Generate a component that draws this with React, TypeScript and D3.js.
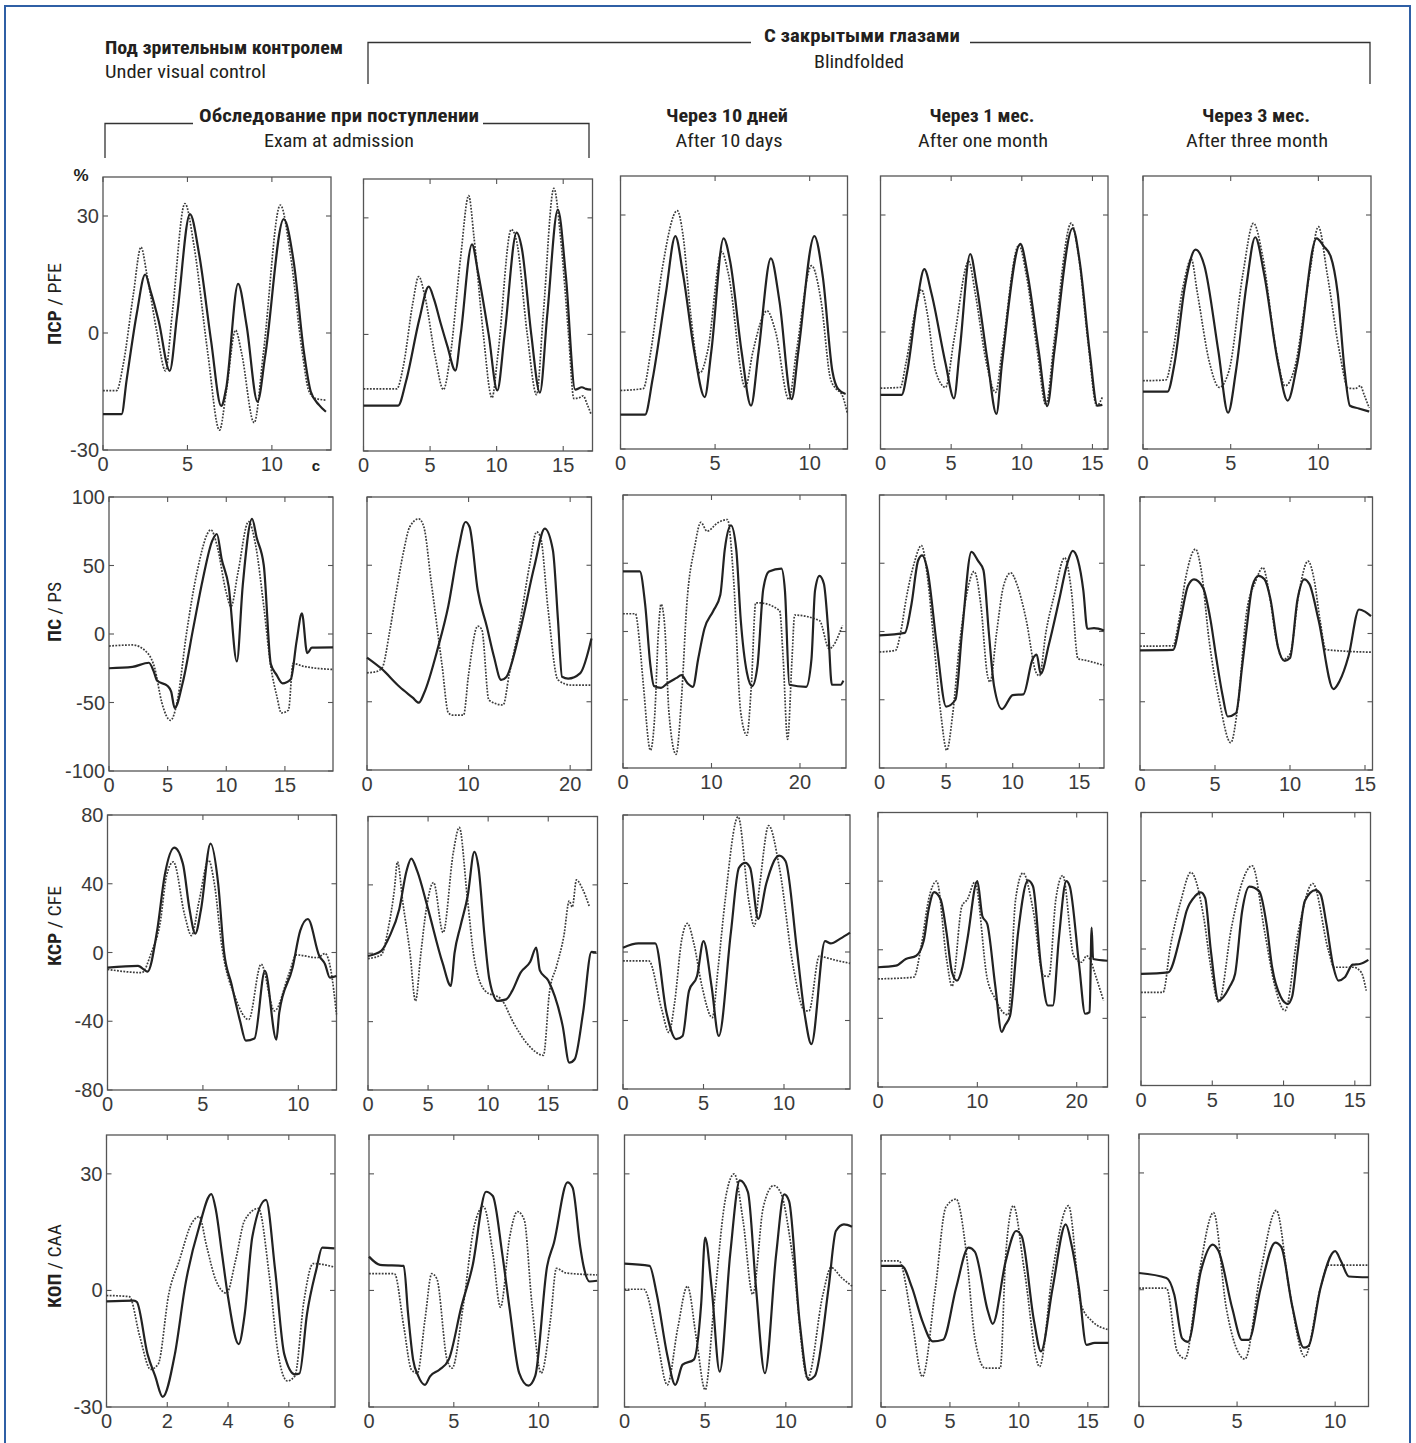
import React from "react";
import * as d3 from "d3";

type Pt = [number, number];

// ---- ПСР / PFE (row 1) ----
const pfeAdmitASolid: Pt[] = [[0,-20.8],[1.1,-20.8],[1.4,-12],[2.0,5],[2.5,15],[2.8,11],[3.3,3],[3.95,-9.7],[4.4,5],[5.15,30.5],[5.7,20],[6.4,-2],[7.0,-18.7],[7.3,-14],[8.0,12.6],[8.5,2],[9.15,-17.6],[9.6,-6],[10.7,29.2],[11.3,18],[11.9,-5],[12.3,-15],[12.8,-18.5],[13.2,-20.2]];
const pfeAdmitADotted: Pt[] = [[0,-14.8],[0.8,-14.8],[1.2,-8],[1.8,10],[2.25,22],[2.6,15],[3.2,0],[3.7,-9.7],[4.1,5],[4.85,33.2],[5.4,22],[6.2,-5],[6.9,-24.9],[7.3,-15],[7.85,0.7],[8.2,-5],[8.95,-23],[9.5,-5],[10.5,32.8],[11.1,20],[11.8,-5],[12.2,-15],[12.6,-16.8],[13.2,-17.2]];
const pfeAdmitBSolid: Pt[] = [[0,-18.3],[2.6,-18.3],[3.2,-12],[4.2,4],[4.9,12.3],[5.3,9],[5.8,2.8],[6.3,-3],[6.9,-9.3],[7.3,0],[8.15,23.2],[8.6,16],[9.4,0],[10.05,-14.4],[10.6,0],[11.5,26.2],[11.9,22],[12.6,0],[13.25,-15],[13.8,5],[14.6,32.1],[15.2,15],[15.9,-14.2],[16.4,-13.6],[16.7,-14],[17.1,-14.2]];
const pfeAdmitBDotted: Pt[] = [[0,-14],[2.5,-14],[3.0,-8],[3.7,8],[4.15,14.9],[4.6,10],[5.4,-6],[6.0,-14.2],[6.5,-6],[7.3,20],[7.9,35.7],[8.3,25],[9.0,0],[9.65,-16.3],[10.1,-5],[11.1,27],[11.5,24],[12.3,0],[13.0,-15.5],[13.5,5],[14.3,37.6],[14.8,25],[15.4,0],[15.8,-16.5],[16.2,-16.3],[16.5,-15.8],[16.8,-18],[17.1,-20.6]];
const pfeDay10Solid: Pt[] = [[0,-21.2],[1.3,-21.2],[1.7,-12],[2.4,10],[2.9,24.6],[3.3,15],[3.9,-5],[4.45,-16.7],[4.8,-5],[5.45,24],[5.8,18],[6.4,-5],[6.9,-18.9],[7.3,-5],[7.95,18.9],[8.4,8],[9.05,-17.2],[9.4,-5],[10.25,24.6],[10.7,14],[11.2,-10],[11.5,-14.6],[11.9,-15.9]];
const pfeDay10Dotted: Pt[] = [[0,-15],[1.2,-14.5],[1.6,-5],[2.2,16],[3.0,31.1],[3.3,25],[3.7,5],[4.2,-10.5],[4.6,-5],[5.35,20.6],[5.7,15],[6.6,-14.2],[7.0,-5],[7.75,5.4],[8.2,0],[8.9,-17.3],[9.3,-5],[10.1,17],[10.6,8],[11.1,-12],[11.4,-14.6],[11.7,-16],[12.0,-21]];
const pfeMonth1Solid: Pt[] = [[0,-16.1],[1.5,-16.1],[1.9,-10],[2.6,8],[3.1,16.1],[3.6,10],[4.6,-8],[5.2,-17],[5.6,-5],[6.35,20],[6.8,12],[7.6,-8],[8.2,-21],[8.6,-8],[9.9,22.6],[10.4,15],[11.2,-5],[11.8,-19],[12.3,-5],[13.6,26.6],[14.1,18],[14.8,-5],[15.35,-18.9],[15.7,-18.7]];
const pfeMonth1Dotted: Pt[] = [[0,-14.4],[1.4,-14.2],[1.8,-8],[2.5,6],[2.9,10.9],[3.3,5],[3.9,-10],[4.6,-14.2],[5.2,-2],[6.25,18.1],[6.7,10],[7.5,-8],[8.15,-15.5],[8.6,-5],[9.8,22.3],[10.3,15],[11.1,-5],[11.7,-18.7],[12.3,-2],[13.5,27.9],[14.0,20],[14.7,-3],[15.3,-18.9],[15.7,-16.7]];
const pfeMonth3Solid: Pt[] = [[0,-15.3],[1.4,-15.3],[1.8,-8],[2.4,12],[3.0,21.1],[3.5,17],[4.3,-5],[4.85,-20.7],[5.3,-10],[5.9,12],[6.4,24.3],[6.9,15],[7.7,-8],[8.25,-17.6],[8.8,-8],[9.9,24],[10.3,22],[10.7,19.4],[11.1,10],[11.5,-10],[11.8,-18.9],[12.3,-19.6],[12.9,-20.4]];
const pfeMonth3Dotted: Pt[] = [[0,-12.5],[1.3,-12.3],[1.7,-5],[2.3,12],[2.75,18.7],[3.1,10],[3.8,-8],[4.35,-14.2],[4.9,-10],[5.7,15],[6.3,27.9],[6.8,20],[7.6,-5],[8.1,-13.8],[8.6,-10],[9.5,15],[10.0,27],[10.5,15],[11.2,-5],[11.7,-14.4],[12.1,-14.5],[12.4,-13.8],[12.6,-16],[12.9,-19.5]];

// ---- ПС / PS (row 2) ----
const psAdmitASolid: Pt[] = [[0,-25],[2,-24],[3.4,-21],[3.8,-27],[4.1,-34],[5.0,-38],[5.3,-42],[5.6,-54],[6.3,-35],[7.2,5],[8.0,40],[8.8,68],[9.2,73],[9.6,55],[10.2,35],[10.9,-20],[11.4,35],[12.2,84],[12.6,70],[13.2,50],[13.8,-22],[14.3,-30],[14.8,-36],[15.5,-33],[16.0,-5],[16.45,15],[16.9,-14],[17.3,-10],[19.1,-9.8]];
const psAdmitADotted: Pt[] = [[0,-8.8],[2,-8],[3.3,-14],[3.9,-25],[4.5,-50],[5.25,-63],[5.8,-50],[6.6,0],[7.5,45],[8.7,76],[9.2,65],[10.0,30],[10.4,20],[11.0,45],[11.9,82],[12.5,65],[13.2,20],[13.8,-24],[14.3,-45],[14.7,-57.6],[15.3,-55.6],[15.7,-21.5],[16.5,-23.4],[19.1,-25.9]];
const psAdmitBSolid: Pt[] = [[0,-17.6],[1.4,-25.6],[3.2,-39],[4.5,-47],[5.1,-50.7],[5.6,-44],[7.0,-10],[8.0,20],[9.0,62],[9.7,81.7],[10.1,78],[10.9,31.7],[11.8,5],[12.5,-17],[13.2,-34],[13.7,-32],[15.0,0],[16.5,50],[17.5,76.8],[18.3,61],[18.8,10],[19.2,-31.7],[19.8,-33],[21.0,-29],[22.1,-3.7]];
const psAdmitBDotted: Pt[] = [[0,-28.8],[0.9,-28],[1.5,-25],[2.2,0],[2.8,26.8],[3.6,60],[4.2,78],[5.1,84],[5.6,78],[6.3,39],[7.4,-24],[8.0,-58],[8.4,-59.8],[9.5,-59.8],[10.0,-30],[10.9,5.4],[11.3,3],[12.0,-48.8],[13.4,-52.4],[14.0,-30],[15.1,9.8],[16.0,50],[16.7,74.4],[17.1,70],[17.8,19.5],[18.8,-34],[20.1,-37.8],[22.1,-37.8]];
const psDay10Solid: Pt[] = [[0,44],[1.9,44],[2.5,20],[3.1,-25],[3.5,-40],[4.3,-41.3],[5.0,-38],[6.05,-34],[6.6,-32],[7.3,-38],[7.9,-40.5],[8.5,-20],[9.2,2],[10.2,15],[11.0,27],[11.5,60],[12.2,77.7],[12.8,60],[13.3,9],[14.0,-30],[14.6,-40],[15.2,-25],[15.85,31],[16.5,44],[17.9,46],[18.3,30],[18.8,-39],[20.7,-40.5],[21.3,-20],[21.7,30],[22.2,40.8],[22.7,35],[23.2,0],[23.6,-39],[24.6,-39],[24.9,-36]];
const psDay10Dotted: Pt[] = [[0,13],[1.4,13],[1.9,-10],[2.3,-39],[3.1,-87],[3.6,-60],[4.0,0],[4.3,20],[4.7,5],[5.2,-60],[6.0,-90],[6.6,-50],[7.2,19],[8.1,62],[8.8,80],[9.5,73.5],[10.7,79.6],[11.8,82],[12.5,38],[13.3,-59],[14.0,-76],[14.5,-40],[15.0,21],[15.4,21],[17.7,15.3],[18.1,-20],[18.6,-79],[19.1,-20],[19.4,12],[22.2,8],[23.3,-12.6],[24.8,4.4]];
const psMonth1Solid: Pt[] = [[0,-2.9],[1.9,-1],[2.4,20],[2.9,52],[3.2,55.8],[3.6,45],[4.3,-10],[5.0,-55],[5.7,-50],[6.2,0],[6.9,58.3],[7.4,51.7],[7.8,45],[8.2,0],[8.6,-40],[9.2,-56.8],[10.0,-46.6],[10.8,-46],[11.5,-20],[11.8,-17],[12.1,-31],[12.7,-10],[13.5,23.8],[14.1,50],[14.5,59],[14.9,52],[15.3,30],[15.6,2],[16.1,2.4],[16.85,0.7]];
const psMonth1Dotted: Pt[] = [[0,-15],[1.2,-13.8],[1.6,0],[2.0,23.8],[2.6,50],[3.15,63],[3.6,40],[4.1,-10],[4.6,-60],[5.05,-87],[5.5,-60],[6.0,-10],[6.6,30],[7.1,44],[7.6,20],[8.1,-32],[8.3,-37],[8.8,0],[9.3,33],[9.85,43],[10.3,35],[11.0,9],[11.75,-30],[12.0,-32.5],[12.5,0],[13.1,26],[13.9,54],[14.4,30],[14.9,-20],[15.4,-21],[16.85,-24.8]];
const psMonth3Solid: Pt[] = [[0,-12.3],[2.2,-12],[2.7,10],[3.2,35],[3.6,39.7],[4.2,33.6],[4.7,10],[5.1,-19],[5.5,-45],[5.85,-60.8],[6.4,-58.3],[6.8,-25],[7.1,3],[7.5,35],[7.9,42.2],[8.3,39.7],[8.7,25],[9.2,-10],[9.65,-20],[10.0,-18],[10.5,25],[10.95,39.7],[11.3,36],[11.9,10],[12.9,-40.7],[13.3,-35],[13.9,-16.7],[14.6,17.6],[15.0,16],[15.4,12.7]];
const psMonth3Dotted: Pt[] = [[0,-9.3],[2.2,-9],[2.6,10],[3.05,41],[3.7,61.8],[4.1,45],[4.6,-4.4],[5.3,-50],[6.05,-80],[6.5,-55],[7.1,15],[7.7,38],[8.2,48.3],[8.6,30],[9.1,-5],[9.55,-19],[10.0,-15],[10.6,30],[11.2,53],[11.6,40],[12.0,10],[12.4,-11.8],[15.4,-13.7]];

// ---- КСР / CFE (row 3) ----
const cfeAdmitASolid: Pt[] = [[0,-8.8],[1.6,-7.8],[2.1,-11.1],[2.6,12.7],[3.0,45],[3.5,61],[3.95,51.7],[4.3,25],[4.6,11],[4.9,25],[5.4,63.4],[5.8,40],[6.1,1],[6.5,-18.5],[6.95,-40],[7.25,-51.3],[7.7,-50.1],[8.25,-10.7],[8.85,-50.7],[9.0,-35],[9.7,-8.8],[10.1,12.7],[10.5,19.5],[11.1,-2],[11.4,-6.8],[11.65,-14.6],[12.0,-13.7]];
const cfeAdmitADotted: Pt[] = [[0,-9.8],[1.8,-11.7],[2.3,0],[2.75,16.6],[3.1,45],[3.45,52.7],[4.05,21.5],[4.4,9.8],[4.8,30],[5.3,53.7],[5.6,40],[6.0,3],[6.7,-26.3],[7.4,-39],[8.05,-6.8],[8.75,-34],[9.5,-12.7],[9.9,-1.4],[11.0,-3],[11.4,-0.6],[11.7,-10],[12.0,-36]];
const cfeAdmitBSolid: Pt[] = [[0,-1.6],[1.1,1.4],[1.8,10],[2.6,25.8],[3.2,48],[3.6,55.4],[4.1,48],[5.0,25.8],[6.2,-5.5],[6.9,-19.1],[7.2,0],[7.7,16],[8.3,33.6],[8.85,59.3],[9.2,50],[9.7,10],[10.1,-15.2],[10.8,-27.9],[11.5,-27],[12.0,-22],[12.7,-11.3],[13.5,-5],[14.0,3.3],[14.3,-10],[15.0,-16],[16.2,-42.5],[16.75,-64],[17.2,-62],[17.9,-34.7],[18.6,0.8],[19.0,0.5]];
const cfeAdmitBDotted: Pt[] = [[0,-3.1],[1.1,-1],[1.7,15],[2.2,37.5],[2.45,53.5],[2.9,29.7],[3.5,0],[3.95,-27.9],[4.4,0],[4.85,25.8],[5.45,41.4],[6.25,12.1],[7.1,59],[7.6,73.6],[8.25,33.6],[8.85,-3.5],[9.75,-22],[11.1,-27],[12.1,-40.6],[13.3,-53.3],[14.6,-59.7],[15.1,-23],[15.7,-7.4],[16.3,10.1],[16.75,30.6],[17.0,27],[17.35,42.9],[17.8,38.4],[18.4,27.7]];
const cfeDay10Solid: Pt[] = [[0,2.5],[0.95,5],[2.0,5],[2.7,-35.3],[3.3,-50.9],[3.7,-49],[4.1,-22.7],[4.6,-14],[5.0,6.4],[5.5,-20],[5.95,-49],[6.7,11.3],[7.2,49.1],[7.6,52],[7.9,49],[8.4,19.4],[8.9,40],[9.7,56.3],[10.1,53],[10.8,1.6],[11.3,-37.3],[11.7,-53.8],[12.55,6.4],[12.9,5],[13.5,7.8],[14.1,11.3]];
const cfeDay10Dotted: Pt[] = [[0,-5.2],[1.6,-5.2],[2.4,-33.4],[2.85,-47],[3.2,-30],[3.65,7.4],[4.0,16.7],[4.4,5],[4.9,-19.8],[5.55,-38.3],[5.9,-10],[6.35,30.7],[7.15,79],[7.8,30.7],[8.15,15.1],[8.5,40],[9.05,73.8],[9.7,50],[10.6,-10],[11.3,-34.4],[11.55,-34.4],[12.2,-2.3],[12.5,-3],[13.3,-5],[14.1,-6.6]];
const cfeMonth1Solid: Pt[] = [[0,-10.2],[1.8,-9.3],[2.8,-5.4],[3.85,-3.5],[4.6,5.2],[5.1,23.6],[5.65,33.6],[6.3,29.4],[6.9,10],[7.45,-13.1],[7.95,-18],[8.5,-10],[9.0,6.2],[10.0,40],[10.5,19.7],[11.0,15],[11.8,-20.9],[12.45,-47.9],[12.8,-44],[13.3,-38.3],[14.1,10],[15.1,40.4],[15.6,37],[16.4,-9.3],[17.1,-32.5],[17.6,-32.5],[18.2,6.2],[18.95,40],[19.3,37],[20.25,-9.3],[20.85,-37.3],[21.3,-36.3],[21.5,12.9],[21.65,-5.4],[23.1,-6.4]];
const cfeMonth1Dotted: Pt[] = [[0,-17],[3.6,-16],[4.35,2.3],[5.1,29.4],[5.9,40],[6.9,-5.4],[7.45,-21.3],[8.45,25.5],[9.0,29.4],[9.75,39.4],[11.0,-17],[11.8,-28.6],[12.55,-36.3],[13.1,-37.9],[13.85,29.4],[14.6,44.8],[15.6,23.6],[16.65,-15.1],[17.2,-15.5],[17.9,29.4],[18.6,43.3],[19.7,-3.5],[20.5,-7.3],[21.0,-3.5],[21.4,-6.4],[21.9,-15.1],[22.7,-29.6]];
const cfeMonth3Solid: Pt[] = [[0,-14.6],[1.9,-13.7],[2.8,8.8],[3.2,22.4],[3.8,31],[4.2,33.2],[4.5,30],[4.9,-1],[5.45,-30.2],[6.2,-22.4],[6.6,-14.6],[7.1,22.4],[7.6,36.5],[8.3,33.8],[8.8,15],[9.2,-10.7],[9.8,-28],[10.3,-32.2],[10.6,-28],[11.0,-1],[11.5,28.3],[12.25,34.5],[12.6,32],[13.0,15],[13.5,-10.7],[13.85,-18.5],[14.3,-16.6],[14.85,-9.2],[15.35,-8.8],[15.95,-6.4]];
const cfeMonth3Dotted: Pt[] = [[0,-25.4],[1.55,-25.4],[2.05,1],[2.8,28.3],[3.5,44.9],[4.4,18.5],[4.9,-10.7],[5.45,-31.2],[6.35,12.7],[7.05,38],[7.8,48.8],[8.7,8.8],[9.4,-22],[10.1,-36.1],[11.0,8.8],[12.05,38.4],[13.15,-1],[13.55,-10.7],[14.9,-10.7],[15.45,-13.7],[15.8,-24.4]];

// ---- КОП / CAA (row 4) ----
const caaAdmitASolid: Pt[] = [[0,-2.8],[0.9,-2.6],[1.0,-3],[1.35,-16.4],[1.6,-22],[1.85,-27.4],[2.25,-16.4],[2.6,1.7],[3.05,16.4],[3.45,24.8],[3.6,20.7],[3.8,9.5],[4.0,-1.7],[4.35,-13.8],[4.55,-6],[4.8,13.8],[5.25,23.3],[5.55,5.2],[5.85,-16.4],[6.2,-21.6],[6.35,-21.4],[6.6,-6],[6.9,5.2],[7.1,11],[7.5,10.8]];
const caaAdmitADotted: Pt[] = [[0,-1.3],[0.75,-1.6],[1.1,-12],[1.45,-20.3],[1.7,-19],[2.05,-0.9],[2.4,7.8],[2.8,17.2],[3.05,19],[3.3,11.2],[3.6,2.6],[3.95,-0.7],[4.25,7.8],[4.55,18.1],[5.0,21.1],[5.35,4.3],[5.65,-16.4],[5.95,-23.3],[6.2,-22],[6.5,-2.6],[6.8,6.9],[7.1,6.7],[7.5,6]];
const caaAdmitBSolid: Pt[] = [[0,8.7],[0.65,6.6],[2.05,6.3],[2.3,-5.8],[2.6,-17.8],[2.9,-22],[3.3,-24.3],[3.6,-22.1],[4.15,-20.4],[4.7,-17.8],[5.45,-4.1],[6.1,6.2],[6.9,25.4],[7.3,24.3],[7.85,9.6],[8.3,-5],[8.85,-21.2],[9.4,-24.5],[9.8,-22],[10.5,6.2],[10.9,12.2],[11.7,27.8],[12.0,26.5],[12.45,11.3],[12.65,6.2],[13.0,2.3],[13.45,2.5]];
const caaAdmitBDotted: Pt[] = [[0,4.3],[1.5,4.3],[2.05,-9.3],[2.5,-20.4],[2.85,-21.3],[3.3,-7.5],[3.7,4.3],[4.0,3],[4.6,-17.8],[4.9,-20],[5.55,-4.1],[6.2,16.5],[6.75,21.6],[7.3,9.6],[7.75,-4.3],[8.3,13.9],[8.75,20.3],[9.15,18.2],[9.6,-3.3],[10.15,-21.3],[10.7,-7.5],[11.05,5.7],[11.6,4.5],[13.45,4]];
const caaDay10Solid: Pt[] = [[0,6.9],[1.55,6.3],[2.0,-1],[2.65,-16.6],[3.15,-24.3],[3.6,-19.1],[4.3,-17.8],[4.75,-3.6],[5.0,13.6],[5.4,0.7],[5.9,-20.9],[6.55,9.3],[7.15,28.3],[7.65,25.3],[8.15,0.7],[8.7,-21.3],[9.4,9.3],[9.9,24.7],[10.2,23],[10.85,-7.9],[11.4,-23],[11.8,-22],[12.65,0.7],[13.1,15.3],[13.6,17],[14.1,16.4]];
const caaDay10Dotted: Pt[] = [[0,0.3],[1.2,0.3],[2.0,-12.2],[2.65,-24.3],[3.3,-9.7],[3.9,1.1],[4.45,-12.2],[5.0,-25.6],[5.55,-3.6],[6.2,22.2],[6.8,30],[7.35,17.9],[7.95,-1],[8.6,21.4],[9.25,27],[9.7,25],[10.4,9.3],[11.35,-22.6],[12.3,-1],[12.8,5.9],[13.45,3.3],[14.1,1.1]];
const caaMonth1Solid: Pt[] = [[0,6.3],[1.5,6.3],[2.25,0.7],[3.0,-7.9],[3.75,-13.1],[4.5,-12.7],[5.45,0.7],[6.35,11],[6.8,10],[7.75,-5.3],[8.1,-8.6],[9.05,7.6],[9.8,15.3],[10.2,14],[11.1,-7.9],[11.6,-15.7],[12.45,0.7],[13.4,17],[13.8,12],[14.35,0.7],[14.9,-14],[15.5,-13.5],[16.5,-13.5]];
const caaMonth1Dotted: Pt[] = [[0,7.6],[1.3,7.6],[2.25,-7.9],[3.0,-22.2],[3.95,0.7],[4.7,21.4],[5.45,23.5],[6.2,9.3],[6.8,-12.2],[7.55,-20],[8.65,-20],[9.05,9.3],[9.6,21.8],[10.4,5],[11.5,-19.6],[12.45,5],[13.6,21.8],[14.5,-3.6],[15.3,-7.9],[16.5,-10.1]];
const caaMonth3Solid: Pt[] = [[0,4.3],[1.4,3],[1.8,-1.3],[2.2,-12.5],[2.5,-13.4],[3.15,4.7],[3.75,11.6],[4.05,10],[4.75,-4.7],[5.25,-12.9],[5.6,-12.9],[6.2,0.4],[6.95,12.1],[7.25,11],[7.8,-3.9],[8.4,-14.9],[8.65,-14.4],[9.25,0.4],[10.0,9.9],[10.3,7.3],[10.7,3.4],[11.7,3.2]];
const caaMonth3Dotted: Pt[] = [[0,0.4],[1.4,0.4],[1.95,-15.9],[2.35,-17.7],[3.0,2.2],[3.8,19.8],[4.45,-4.7],[5.4,-17.8],[6.2,4.7],[7.0,20.4],[7.65,0.4],[8.45,-17.2],[9.25,0.4],[9.65,6.3],[11.7,6.3]];

// row measures and tick values
const rowNames = ["ПСР", "ПС", "КСР", "КОП"];
const rowNamesEn = ["PFE", "PS", "CFE", "CAA"];
const rowYDomains: [number, number][] = [[-30, 40], [-100, 100], [-80, 80], [-30, 40]];
const rowYTicks = [[-30, 0, 30], [-100, -50, 0, 50, 100], [-80, -40, 0, 40, 80], [-30, 0, 30]];

const rowLayout = [
  { labelY: 304, labelLen: 82 },
  { labelY: 612, labelLen: 60 },
  { labelY: 926, labelLen: 80 },
  { labelY: 1266, labelLen: 84 },
];

const panels = [
  { row: 0, col: 0, box: [103, 177, 331, 450], xMax: 13.5, xTicks: [0, 5, 10], solid: pfeAdmitASolid, dotted: pfeAdmitADotted },
  { row: 0, col: 1, box: [363.5, 179, 592.5, 451], xMax: 17.2, xTicks: [0, 5, 10, 15], solid: pfeAdmitBSolid, dotted: pfeAdmitBDotted },
  { row: 0, col: 2, box: [620.5, 176, 847.5, 449], xMax: 12.0, xTicks: [0, 5, 10], solid: pfeDay10Solid, dotted: pfeDay10Dotted },
  { row: 0, col: 3, box: [880.5, 176, 1108, 449], xMax: 16.1, xTicks: [0, 5, 10, 15], solid: pfeMonth1Solid, dotted: pfeMonth1Dotted },
  { row: 0, col: 4, box: [1143, 176, 1371, 449], xMax: 13.0, xTicks: [0, 5, 10], solid: pfeMonth3Solid, dotted: pfeMonth3Dotted },

  { row: 1, col: 0, box: [109, 497, 333, 771], xMax: 19.1, xTicks: [0, 5, 10, 15], solid: psAdmitASolid, dotted: psAdmitADotted },
  { row: 1, col: 1, box: [367, 497, 591.5, 770], xMax: 22.1, xTicks: [0, 10, 20], solid: psAdmitBSolid, dotted: psAdmitBDotted },
  { row: 1, col: 2, box: [623, 495, 846, 768], xMax: 25.2, xTicks: [0, 10, 20], solid: psDay10Solid, dotted: psDay10Dotted },
  { row: 1, col: 3, box: [879.5, 495, 1104, 768], xMax: 16.85, xTicks: [0, 5, 10, 15], solid: psMonth1Solid, dotted: psMonth1Dotted },
  { row: 1, col: 4, box: [1140, 497, 1372.5, 770], xMax: 15.5, xTicks: [0, 5, 10, 15], solid: psMonth3Solid, dotted: psMonth3Dotted },

  { row: 2, col: 0, box: [107.5, 815, 336.5, 1090], xMax: 12.0, xTicks: [0, 5, 10], solid: cfeAdmitASolid, dotted: cfeAdmitADotted },
  { row: 2, col: 1, box: [368, 816.5, 597.5, 1090], xMax: 19.1, xTicks: [0, 5, 10, 15], solid: cfeAdmitBSolid, dotted: cfeAdmitBDotted },
  { row: 2, col: 2, box: [623, 815, 850, 1089], xMax: 14.1, xTicks: [0, 5, 10], solid: cfeDay10Solid, dotted: cfeDay10Dotted },
  { row: 2, col: 3, box: [878, 812.5, 1107.5, 1087], xMax: 23.1, xTicks: [0, 10, 20], solid: cfeMonth1Solid, dotted: cfeMonth1Dotted },
  { row: 2, col: 4, box: [1141, 812.5, 1370.5, 1085.5], xMax: 16.1, xTicks: [0, 5, 10, 15], solid: cfeMonth3Solid, dotted: cfeMonth3Dotted },

  { row: 3, col: 0, box: [106.5, 1135, 335, 1407], xMax: 7.52, xTicks: [0, 2, 4, 6], solid: caaAdmitASolid, dotted: caaAdmitADotted },
  { row: 3, col: 1, box: [369, 1135, 598, 1407], xMax: 13.5, xTicks: [0, 5, 10], solid: caaAdmitBSolid, dotted: caaAdmitBDotted },
  { row: 3, col: 2, box: [624.5, 1135, 852, 1407], xMax: 14.1, xTicks: [0, 5, 10], solid: caaDay10Solid, dotted: caaDay10Dotted },
  { row: 3, col: 3, box: [881, 1135, 1108.5, 1407], xMax: 16.5, xTicks: [0, 5, 10, 15], solid: caaMonth1Solid, dotted: caaMonth1Dotted },
  { row: 3, col: 4, box: [1139, 1134, 1368.5, 1406.5], xMax: 11.7, xTicks: [0, 5, 10], solid: caaMonth3Solid, dotted: caaMonth3Dotted },
];

const narrow = "'Liberation Sans Narrow', 'Arial Narrow', 'Roboto Condensed', 'Liberation Sans', Arial, sans-serif";
const sans = "'Liberation Sans', Arial, Helvetica, sans-serif";
const ink = "#231f20";

function Panel({ p }: { p: (typeof panels)[0] }) {
  const [x0, y0, x1, y1] = p.box;
  const x = d3.scaleLinear().domain([0, p.xMax]).range([x0, x1]);
  const y = d3.scaleLinear().domain(rowYDomains[p.row]).range([y1, y0]);
  const line = d3
    .line<Pt>()
    .x((d) => x(d[0]))
    .y((d) => y(d[1]))
    .curve(d3.curveMonotoneX);
  const tk = 5;

  return (
    <g>
      <rect x={x0} y={y0} width={x1 - x0} height={y1 - y0} fill="none" stroke="#555" strokeWidth={1.3} />
      {p.xTicks.map((t) => (
        <g key={"x" + t} stroke="#555" strokeWidth={1.1}>
          <line x1={x(t)} x2={x(t)} y1={y1} y2={y1 - tk} />
          <line x1={x(t)} x2={x(t)} y1={y0} y2={y0 + tk} />
        </g>
      ))}
      {rowYTicks[p.row].map((t) => (
        <g key={"y" + t} stroke="#555" strokeWidth={1.1}>
          <line x1={x0} x2={x0 + tk} y1={y(t)} y2={y(t)} />
          <line x1={x1} x2={x1 - tk} y1={y(t)} y2={y(t)} />
        </g>
      ))}
      <path d={line(p.dotted) || ""} fill="none" stroke="#3c3c3c" strokeWidth={1.7} strokeDasharray="1.8 1.4" />
      <path d={line(p.solid) || ""} fill="none" stroke="#222" strokeWidth={2.2} strokeLinejoin="round" />
      {p.xTicks.map((t) => (
        <text key={"xl" + t} x={x(t)} y={y1 + 21} textAnchor="middle" fontSize={20} fill="#3a3a3a" fontFamily={sans}>
          {t}
        </text>
      ))}
      {p.col === 0 &&
        rowYTicks[p.row].map((t) => (
          <text key={"yl" + t} x={x0 - 4} y={y(t) + 7} textAnchor="end" fontSize={20} fill="#3a3a3a" fontFamily={sans}>
            {t}
          </text>
        ))}
    </g>
  );
}

function Head({ x, y, len, bold, anchor = "middle", children }: any) {
  return (
    <text
      x={x}
      y={y}
      textAnchor={anchor}
      fontFamily={narrow}
      fontWeight={bold ? 700 : 400}
      fontSize={bold ? 19 : 18}
      fill={ink}
      textLength={len}
      lengthAdjust="spacingAndGlyphs"
    >
      {children}
    </text>
  );
}

export default function App() {
  return (
    <svg
      width={1416}
      height={1443}
      viewBox="0 0 1416 1443"
      style={{ position: "absolute", left: 0, top: 0, display: "block", background: "#fff" }}
    >
      <rect x={5} y={6} width={1405} height={1450} fill="#fff" stroke="#2f5fa5" strokeWidth={2} />

      {/* header */}
      <Head x={105} y={54} len={238} bold anchor="start">Под зрительным контролем</Head>
      <Head x={105} y={78} len={161} anchor="start">Under visual control</Head>

      <g fill="none" stroke="#333" strokeWidth={1.3}>
        <polyline points="368,84 368,42.5 751,42.5" />
        <polyline points="970,42.5 1370,42.5 1370,84" />
        <polyline points="105,158 105,123.5 193,123.5" />
        <polyline points="483,123.5 589,123.5 589,158" />
      </g>
      <Head x={862} y={42} len={196} bold>С закрытыми глазами</Head>
      <Head x={859} y={68} len={90}>Blindfolded</Head>

      <Head x={339} y={122} len={280} bold>Обследование при поступлении</Head>
      <Head x={339} y={147} len={150}>Exam at admission</Head>
      <Head x={727} y={122} len={122} bold>Через 10 дней</Head>
      <Head x={729} y={147} len={107}>After 10 days</Head>
      <Head x={982} y={122} len={105} bold>Через 1 мес.</Head>
      <Head x={983} y={147} len={130}>After one month</Head>
      <Head x={1256} y={122} len={108} bold>Через 3 мес.</Head>
      <Head x={1257} y={147} len={142}>After three month</Head>

      <text x={81} y={181} textAnchor="middle" fontFamily={sans} fontWeight={700} fontSize={17} fill={ink}>%</text>
      <text x={316} y={471} textAnchor="middle" fontFamily={sans} fontWeight={700} fontSize={15} fill={ink}>c</text>

      {/* row labels */}
      {rowLayout.map((r, i) => (
        <text
          key={i}
          transform={`translate(61,${r.labelY}) rotate(-90)`}
          textAnchor="middle"
          fontFamily={narrow}
          fontSize={19}
          fill={ink}
          textLength={r.labelLen}
          lengthAdjust="spacingAndGlyphs"
        >
          <tspan fontWeight={700}>{rowNames[i]}</tspan>
          <tspan> / {rowNamesEn[i]}</tspan>
        </text>
      ))}

      {panels.map((p, i) => (
        <Panel key={i} p={p} />
      ))}
    </svg>
  );
}
